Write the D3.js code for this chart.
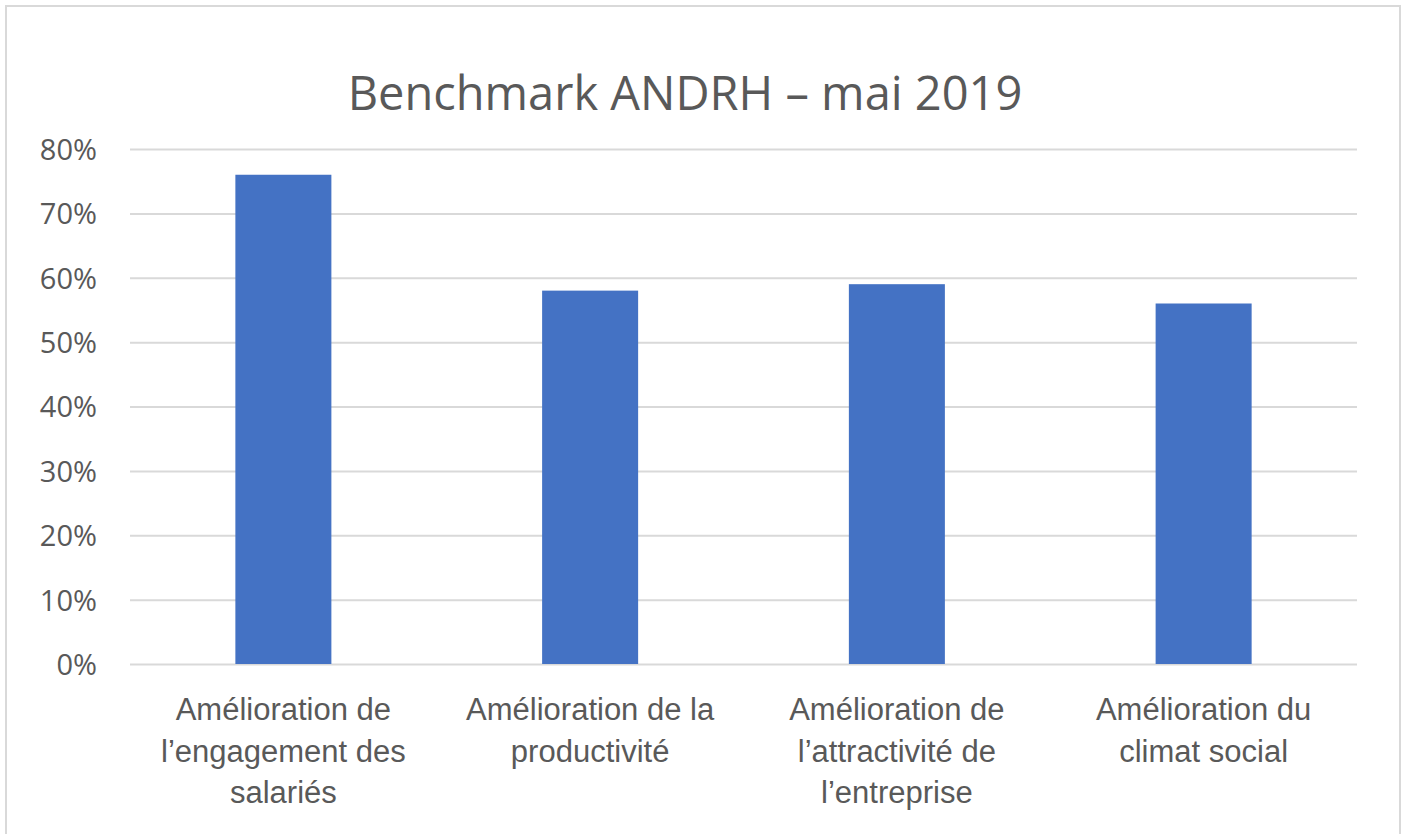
<!DOCTYPE html>
<html>
<head>
<meta charset="utf-8">
<script src="https://cdn.jsdelivr.net/npm/d3@7"></script>
<style>
  html, body { margin: 0; padding: 0; background: #fff; }
  svg { display: block; font-family: "Open Sans", "Noto Sans", sans-serif; }
</style>
</head>
<body>
<svg id="chart" width="1404" height="834"></svg>
<script>
// data
const categories = [
  ['Amélioration de', 'l\u2019engagement des', 'salariés'],
  ['Amélioration de la', 'productivité'],
  ['Amélioration de', 'l\u2019attractivité de', 'l\u2019entreprise'],
  ['Amélioration du', 'climat social']
];
const values = [0.76, 0.58, 0.59, 0.56];
const yTicks = [0, 0.1, 0.2, 0.3, 0.4, 0.5, 0.6, 0.7, 0.8];
const title = 'Benchmark ANDRH \u2013 mai 2019';

const svg = d3.select('#chart');
const margin = { top: 149, right: 47, bottom: 170, left: 130 };
const width = 1404 - margin.left - margin.right;
const height = 834 - margin.top - margin.bottom;

// chart frame
svg.append('rect')
  .attr('x', 6).attr('y', 6)
  .attr('width', 1394).attr('height', 840)
  .attr('fill', '#fff')
  .attr('stroke', '#d9d9d9')
  .attr('stroke-width', 2);

svg.append('text')
  .attr('x', 685)
  .attr('y', 110)
  .attr('text-anchor', 'middle')
  .style('font-size', '47px')
  .style('fill', '#595959')
  .text(title);

const g = svg.append('g').attr('transform', 'translate(' + margin.left + ',' + margin.top + ')');

const x = d3.scaleBand()
  .domain(d3.range(categories.length))
  .range([0, width])
  .paddingInner(0.687)
  .paddingOuter(0.3435);

const y = d3.scaleLinear()
  .domain([0, 0.8])
  .range([height, 0]);

// gridlines
const yAxis = g.append('g')
  .call(d3.axisLeft(y).tickValues(yTicks).tickSize(-width).tickFormat(d3.format('.0%')));
yAxis.select('.domain').remove();
yAxis.selectAll('.tick line')
  .attr('stroke', '#d9d9d9')
  .attr('stroke-width', 2);
yAxis.selectAll('.tick text')
  .attr('x', -33)
  .attr('dy', '0.36em')
  .style('font-size', '29px')
  .style('fill', '#595959')
  .style('font-family', '"Open Sans", "Noto Sans", sans-serif');

// bars
g.selectAll('.bar')
  .data(values)
  .enter().append('rect')
  .attr('class', 'bar')
  .attr('x', (d, i) => x(i))
  .attr('y', d => y(d))
  .attr('width', x.bandwidth())
  .attr('height', d => height - y(d))
  .attr('fill', '#4472c4');

// x labels
const xAxis = g.append('g')
  .attr('transform', 'translate(0,' + height + ')')
  .call(d3.axisBottom(x).tickSize(0).tickFormat(''));
xAxis.select('.domain').remove();
xAxis.selectAll('.tick').each(function (d) {
  const t = d3.select(this).append('text')
    .attr('text-anchor', 'middle')
    .attr('y', 56)
    .style('font-size', '31px')
    .style('fill', '#595959');
  categories[d].forEach((line, k) => {
    t.append('tspan').attr('x', 0).attr('dy', k === 0 ? 0 : 41.5).text(line);
  });
});
</script>
</body>
</html>
